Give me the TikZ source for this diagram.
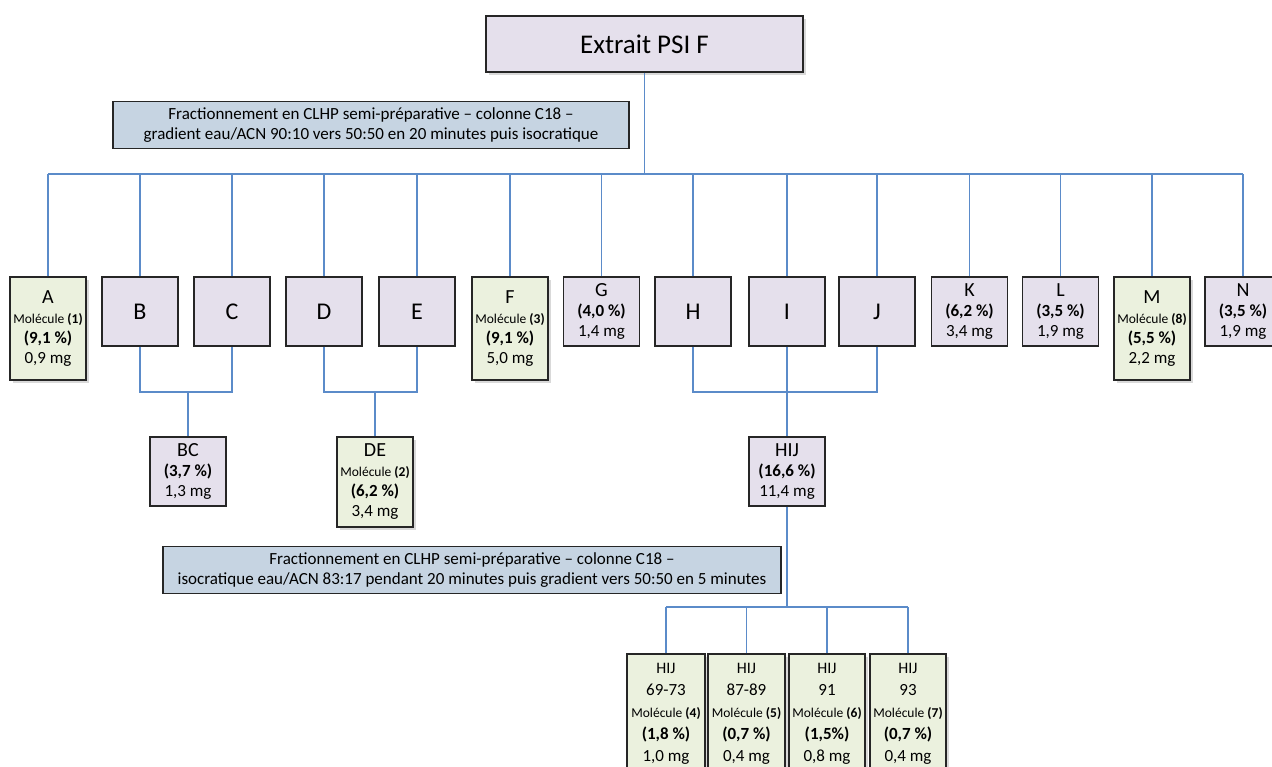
\documentclass[tikz,border=0pt]{standalone}
\usepackage{fontspec}
\setmainfont{Carlito}
\usetikzlibrary{shadows}
\definecolor{lavande}{HTML}{E5E0EC}
\definecolor{vertpale}{HTML}{EBF1DE}
\definecolor{bleugris}{HTML}{C6D4E2}
\definecolor{trait}{HTML}{5B8BC9}
\tikzset{
  fraction/.style={draw=black!85, line width=1.3pt, fill=lavande, minimum width=76pt,
    minimum height=69pt, inner sep=0pt, align=center, font=\fontsize{17}{20}\selectfont},
  lettre/.style={fraction, font=\fontsize{24}{28}\selectfont},
  molecule/.style={fraction, fill=vertpale, minimum height=103pt,
    drop shadow={shadow xshift=2.5pt, shadow yshift=-3pt, opacity=0.3}},
  methode/.style={draw=black!85, line width=1.3pt, fill=bleugris, minimum height=47pt,
    inner sep=0pt, align=center, font=\fontsize{17}{20}\selectfont},
  lien/.style={draw=trait, line width=1.2pt}
}
\newcommand{\titre}[1]{{\fontsize{20}{22}\selectfont #1}}
\newcommand{\mol}[1]{{\fontsize{13.5}{15}\selectfont Molécule \textbf{(#1)}}}
\newcommand{\pc}[1]{\textbf{(#1)}}
\begin{document}
\begin{tikzpicture}[x=1pt, y=-1pt]
\useasboundingbox (0,0) rectangle (1272,767);

\node[fraction, minimum width=317pt, minimum height=56pt, font=\fontsize{27}{30}\selectfont,
  drop shadow={shadow xshift=2.5pt, shadow yshift=-3pt, opacity=0.3}] (extrait) at (644.5,44) {Extrait PSI F};
\node[methode, minimum width=516pt] (meth1) at (371,125)
  {Fractionnement en CLHP semi-préparative -- colonne C18 --\\
   gradient eau/ACN 90:10 vers 50:50 en 20 minutes puis isocratique};

\node[molecule] (A) at (48,328.5) {\titre{A}\\ \mol{1}\\ \pc{9,1 \%}\\ 0,9 mg};
\foreach \n/\x in {B/140, C/232, D/324, E/417, H/693, I/787, J/877}
  \node[lettre] (\n) at (\x,311.5) {\n};
\node[molecule] (F) at (510,328.5) {\titre{F}\\ \mol{3}\\ \pc{9,1 \%}\\ 5,0 mg};
\node[fraction] (G) at (601.5,311.5) {\titre{G}\\ \pc{4,0 \%}\\ 1,4 mg};
\node[fraction] (K) at (969.5,311.5) {\titre{K}\\ \pc{6,2 \%}\\ 3,4 mg};
\node[fraction] (L) at (1060.5,311.5) {\titre{L}\\ \pc{3,5 \%}\\ 1,9 mg};
\node[molecule] (M) at (1152,328.5) {\titre{M}\\ \mol{8}\\ \pc{5,5 \%}\\ 2,2 mg};
\node[fraction] (N) at (1243,311.5) {\titre{N}\\ \pc{3,5 \%}\\ 1,9 mg};

\coordinate (bus) at (644.5,174);
\draw[lien] (extrait.south) -- (bus);
\draw[lien] (A.north |- bus) -- (N.north |- bus);
\foreach \n in {A,B,C,D,E,F,G,H,I,J,K,L,M,N}
  \draw[lien] (\n.north) -- (\n.north |- bus);

\node[fraction] (BC) at (188,471.5) {\titre{BC}\\ \pc{3,7 \%}\\ 1,3 mg};
\node[molecule, minimum height=90pt] (DE) at (375,482) {\titre{DE}\\ \mol{2}\\ \pc{6,2 \%}\\ 3,4 mg};
\node[fraction] (HIJ) at (787,471.5) {\titre{HIJ}\\ \pc{16,6 \%}\\ 11,4 mg};

\coordinate (jbc) at (188,392);
\coordinate (jde) at (375,392);
\coordinate (jhij) at (787,392);
\draw[lien] (B.south) |- (jbc) -| (C.south);
\draw[lien] (jbc) -- (BC.north);
\draw[lien] (D.south) |- (jde) -| (E.south);
\draw[lien] (jde) -- (DE.north);
\draw[lien] (H.south) |- (jhij) -| (J.south);
\draw[lien] (I.south) -- (HIJ.north);

\node[methode, minimum width=618pt] (meth2) at (472,570)
  {Fractionnement en CLHP semi-préparative -- colonne C18 --\\
   isocratique eau/ACN 83:17 pendant 20 minutes puis gradient vers 50:50 en 5 minutes};

\tikzset{sousfr/.style={molecule, minimum height=120pt, font=\fontsize{17}{22}\selectfont}}
\node[sousfr, minimum width=78pt] (h1) at (666,714) {{\fontsize{16}{18}\selectfont HIJ}\\ 69-73\\ \mol{4}\\ \pc{1,8 \%}\\ 1,0 mg};
\node[sousfr, minimum width=77pt] (h2) at (746.5,714) {{\fontsize{16}{18}\selectfont HIJ}\\ 87-89\\ \mol{5}\\ \pc{0,7 \%}\\ 0,4 mg};
\node[sousfr] (h3) at (827,714) {{\fontsize{16}{18}\selectfont HIJ}\\ 91\\ \mol{6}\\ \pc{1,5\%}\\ 0,8 mg};
\node[sousfr] (h4) at (908,714) {{\fontsize{16}{18}\selectfont HIJ}\\ 93\\ \mol{7}\\ \pc{0,7 \%}\\ 0,4 mg};

\coordinate (bas) at (787,607);
\draw[lien] (HIJ.south) -- (bas);
\draw[lien] (h1.north |- bas) -- (h4.north |- bas);
\foreach \n in {h1,h2,h3,h4}
  \draw[lien] (\n.north) -- (\n.north |- bas);
\end{tikzpicture}
\end{document}
